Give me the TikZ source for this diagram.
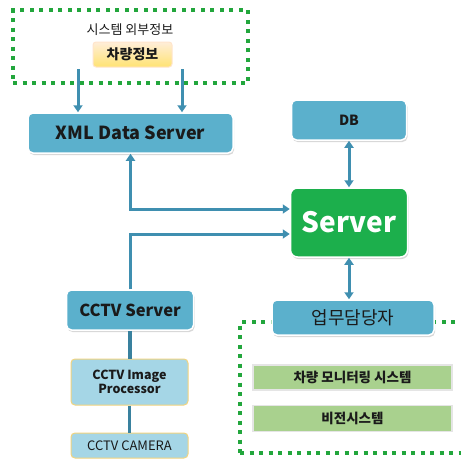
\documentclass[tikz,border=0pt]{standalone}
\usepackage{fontspec}
\setmainfont{Noto Sans CJK KR}
\usepackage{xcolor}
\usepackage{tikz}
\usetikzlibrary{arrows.meta,shadows,calc}

\definecolor{boxblue}{HTML}{5BB0CC}
\definecolor{arrblue}{HTML}{3F8FB0}
\definecolor{srvgreen}{HTML}{1CAF4C}
\definecolor{dotgreen}{HTML}{22A63C}
\definecolor{litegreen}{HTML}{A9D18E}
\definecolor{liteblue}{HTML}{A5D6E6}
\definecolor{paleyellow}{HTML}{F2D47E}
\definecolor{inktext}{HTML}{1A1A1A}

\newcommand{\fs}[1]{\fontsize{#1}{#1}\selectfont}

\tikzset{
    >={Triangle[length=7pt,width=9pt]},
    bluebox/.style={rounded corners=5pt, fill=boxblue, draw=white, line width=1.5pt, text=inktext,
        drop shadow={shadow xshift=1pt, shadow yshift=-2pt, opacity=0.3}},
    srvbox/.style={rounded corners=7pt, fill=srvgreen, draw=white, line width=1.5pt, text=white,
        drop shadow={shadow xshift=1pt, shadow yshift=-2pt, opacity=0.3}},
    carbox/.style={rounded corners=3pt, top color=yellow!10!orange!15, bottom color=orange!40!yellow!55,
        draw=orange!20, line width=1pt, text=inktext},
    camerabox/.style={rounded corners=4pt, fill=liteblue, draw=paleyellow, line width=1pt, text=inktext},
    greenbox/.style={fill=litegreen, draw=gray!20, line width=1.5pt, text=inktext},
    dotbox/.style={draw=dotgreen, line width=4pt, dash pattern=on 4pt off 5.5pt},
    arr/.style={draw=arrblue, line width=3pt},
    link/.style={draw=arrblue!90!black, line width=3.5pt}
}

\begin{document}
\begin{tikzpicture}[x=1pt, y=-1pt]
    \useasboundingbox (0,0) rectangle (461,461);
    \clip (0,0) rectangle (461,461);
    \fill[white] (0,0) rectangle (461,461);

    % outside information
    \node[dotbox, minimum width=235, minimum height=73] (ext) at (130.5,46.5) {};
    \node[text=inktext, font=\fs{13}] (extlbl) at (130,30) {시스템 외부정보};
    \node[carbox, minimum width=79, minimum height=25, font=\bfseries\fs{14}] (car) at (132.5,54.5) {차량정보};
    \coordinate (in1) at (78,69);
    \coordinate (in2) at (182,69);

    \node[bluebox, minimum width=205, minimum height=40, font=\bfseries\fs{18}] (xml) at (130.5,133) {XML Data Server};
    \node[bluebox, minimum width=115, minimum height=40, font=\bfseries\fs{14}] (db) at (349,120) {DB};
    \node[srvbox, minimum width=117, minimum height=69, font=\bfseries\fs{28}] (srv) at (349,222.5) {Server};

    % user side
    \node[dotbox, minimum width=232, minimum height=131] (sys) at (356,387.5) {};
    \node[bluebox, minimum width=162, minimum height=35, font=\fs{18}] (staff) at (353,317.5) {업무담당자};
    \node[greenbox, minimum width=199, minimum height=25, font=\bfseries\fs{13.5}] (mon) at (352.5,377.5) {차량 모니터링 시스템};
    \node[greenbox, minimum width=199, minimum height=26, font=\bfseries\fs{13.5}] (vis) at (352.5,418.5) {비전시스템};

    % cctv side
    \node[bluebox, minimum width=127, minimum height=40, font=\bfseries\fs{16.5}] (cctv) at (130,310) {CCTV Server};
    \node[camerabox, minimum width=117, minimum height=46, font=\bfseries\fs{12.5}, align=center] (proc) at (129.5,382) {CCTV Image\\[1pt]Processor};
    \node[camerabox, minimum width=117, minimum height=25, font=\fs{13}] (cam) at (129.5,445.5) {CCTV CAMERA};

    \coordinate (s1) at ($(srv.west)+(0,-13.5)$);
    \coordinate (s2) at ($(srv.west)+(0,11.5)$);

    \draw[arr,->] (in1) -- (in1 |- xml.north);
    \draw[arr,->] (in2) -- (in2 |- xml.north);
    \draw[arr,<->] (xml.south) |- (s1);
    \draw[arr,->] (cctv.north) |- (s2);
    \draw[arr,<->] (db.south) -- (srv.north);
    \draw[arr,<->] (srv.south) -- (srv.south |- staff.north);
    \draw[link] (cctv.south) -- (cctv.south |- proc.north);
    \draw[link] (proc.south) -- (proc.south |- cam.north);
\end{tikzpicture}
\end{document}
